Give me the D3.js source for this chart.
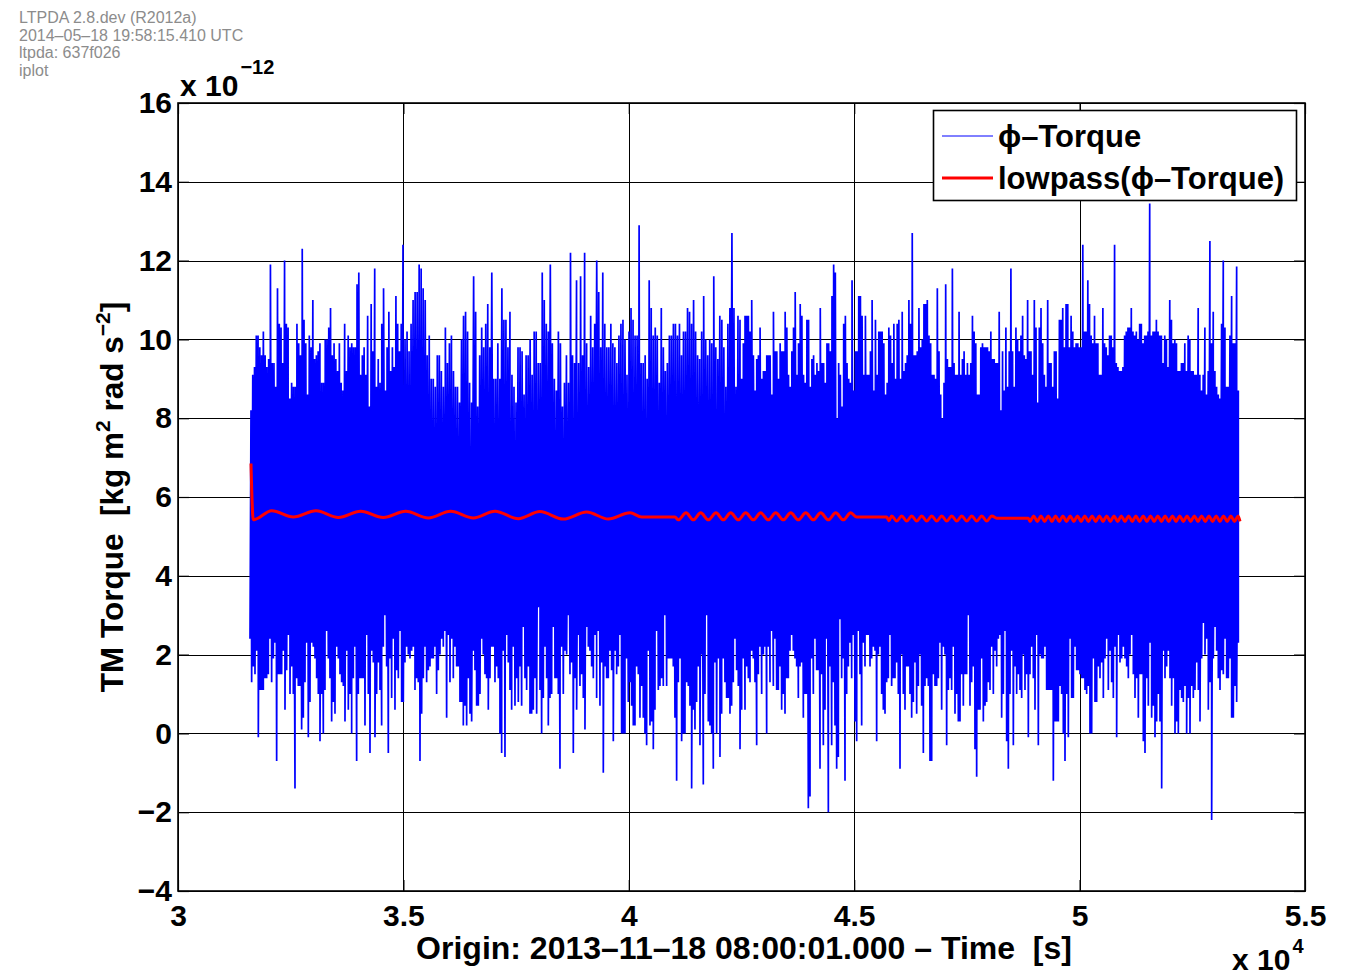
<!DOCTYPE html>
<html><head><meta charset="utf-8">
<script src="https://cdn.jsdelivr.net/npm/d3@7"></script>
<style>
body{margin:0;background:#fff}
svg{display:block}
text{font-family:"Liberation Sans",Arial,Helvetica,sans-serif}
</style>
</head><body>
<svg id="c" width="1350" height="976"></svg>
<script>
// ---------- data ----------
const headerLines = ["LTPDA 2.8.dev (R2012a)", "2014–05–18 19:58:15.410 UTC", "ltpda: 637f026", "iplot"];
const xTicks = [30000, 35000, 40000, 45000, 50000, 55000];
const xTickLabels = ["3", "3.5", "4", "4.5", "5", "5.5"];
const yTicks = [-4, -2, 0, 2, 4, 6, 8, 10, 12, 14, 16];
const yTickLabels = ["−4", "−2", "0", "2", "4", "6", "8", "10", "12", "14", "16"];
const seriesNames = ["ϕ–Torque", "lowpass(ϕ–Torque)"];

// blue series (ϕ-Torque, ×1e-12), read as local maxima / minima over time spans [s]
const bluePeaksA1Span = [31619, 34991];
const bluePeaksA1 = [8.2,9.1,9.3,10.1,10.1,9.8,9.6,10.2,9.6,9.3,9.5,11.9,9.4,9.4,8.8,11.3,10.4,10.3,9.4,12.0,10.4,10.3,8.5,8.9,8.8,8.8,10.4,9.9,9.6,12.3,10.5,9.9,8.6,10.1,9.8,11.0,9.5,9.6,9.7,9.9,8.9,8.9,10.0,10.0,10.3,10.8,9.6,9.9,9.5,9.2,9.9,8.9,8.7,10.4,9.2,10.1,9.8,9.9,9.8,9.8,11.4,11.7,9.1,9.6,9.8,9.1,10.6,8.3,10.9,9.7,11.8,8.8,9.5,8.9,10.4,11.3,8.7,9.8,10.7,9.2,9.8,9.3,11.1,10.4,9.7,10.4,12.4];
const bluePeaksA2Span = [35036, 42422];
const bluePeaksA2 = [10.0,10.2,9.7,10.4,11.0,11.2,11.2,11.9,11.8,11.3,11.0,9.6,10.1,9.0,9.0,8.8,9.6,9.6,9.2,8.8,10.3,9.4,9.9,10.1,9.2,8.8,8.8,8.4,10.0,10.6,10.7,10.2,8.9,8.4,11.6,10.7,8.3,9.6,10.3,9.8,10.4,10.9,9.8,11.7,9.0,9.0,9.9,9.0,11.3,10.5,10.5,9.8,10.7,9.1,8.8,8.4,9.8,9.8,9.7,8.6,9.6,9.6,10.0,9.1,10.2,10.2,9.4,9.4,11.7,11.0,10.4,10.2,11.9,9.9,9.0,8.7,10.2,9.9,8.3,8.9,9.6,8.9,12.2,9.6,9.4,11.5,9.4,11.6,9.6,12.2,9.9,9.3,10.6,9.8,10.4,12.0,11.2,9.8,11.7,10.4,9.8,9.8,10.4,9.9,9.8,9.4,10.1,10.4,10.5,10.0,9.1,10.2,10.8,10.5,10.1,10.1,12.9,9.4,9.4,9.6,9.0,11.5,10.8,10.1,10.3,10.1,8.9,10.8,9.8,9.2,9.4,10.1,10.1,10.4,10.4,10.1,10.4,9.6,10.2,10.2,10.8,10.7,10.4,11.0,10.2,9.6,9.5,10.2,11.1,10.0,9.6,10.0,9.9,11.6,9.8,9.5,10.6,10.5,9.8,8.8,10.4,10.8,12.7,10.8,8.8,10.6];
const bluePeaksBSpan = [42467, 53521];
const bluePeaksB = [10.5,9.0,9.9,10.6,10.6,10.6,10.2,11.0,9.6,8.7,9.5,9.6,10.3,9.0,9.2,9.2,9.6,9.6,9.6,8.6,10.7,9.7,9.7,9.0,9.9,9.7,9.7,10.7,10.3,9.1,8.8,9.7,10.3,11.2,9.1,9.9,10.9,10.6,9.1,8.9,10.5,10.5,8.8,9.5,9.6,9.1,9.4,9.2,10.8,9.4,9.4,8.9,9.9,9.9,9.7,11.1,11.9,11.7,8.0,9.4,9.1,8.3,10.4,10.6,9.4,9.0,8.9,11.5,8.7,9.7,9.7,11.1,11.1,10.6,9.1,10.6,9.1,9.1,9.7,11.0,8.7,10.5,9.1,10.2,10.2,10.2,9.9,8.6,8.9,10.3,10.1,9.4,10.4,9.0,10.4,10.5,9.0,10.7,9.2,9.4,9.6,11.0,10.4,12.7,9.6,9.6,9.7,10.8,9.8,10.0,10.9,10.9,11.0,10.1,9.9,9.1,9.1,9.0,11.3,9.7,8.6,8.0,8.9,11.4,9.5,9.3,9.3,11.8,9.4,9.1,9.1,10.7,9.1,9.5,9.7,9.1,9.4,9.1,9.4,10.6,10.2,9.9,8.6,8.6,9.8,9.9,9.8,9.8,9.8,9.7,10.2,9.5,9.5,9.4,9.4,10.7,8.2,9.7,8.7,10.3,8.8,9.7,11.8,9.7,8.8,10.3,10.0,9.7,10.1,10.6,9.6,9.5,11.0,9.7,9.7,9.1,11.0,10.3,8.4,10.3,10.8,9.9,9.1,8.8,11.0,9.4,9.4,8.8,9.7,9.7,8.5,10.5,10.5,10.8,9.8,10.9,10.9,9.8,10.6,10.2,9.8,9.9,9.9,9.8,9.8,12.4,10.2,10.2,11.5,10.9,10.1,9.9,10.6,9.9,9.9,9.1,9.1,10.8,9.9,9.8,9.6,10.1,10.1,9.8,12.4,9.4,9.3,9.2,9.2,9.3,10.1,10.2,10.3,10.3,10.8,10.2,10.1,10.2,10.0,10.4,10.4,9.9,10.1,10.1,10.2,13.45,10.1,10.2,10.2,10.5,10.2,10.1,10.1,9.4,10.1,10.0,9.3,11.0,10.5,9.9,10.0,9.9,9.2,9.2,9.4,9.4,9.9,9.2,10.1,10.0,9.2,9.2,9.1,9.1,10.8,9.1,8.7,9.1,10.3,8.6,9.2,12.5,9.9,10.7,9.2,8.8,8.6,8.5,10.4,12.0,10.3,8.8,8.8,10.1,11.1,9.9,9.9,11.85,8.7];
const blueTroughsASpan = [31597, 42429];
const blueTroughsA = [2.4,1.3,1.7,1.5,2.1,-0.1,1.1,1.1,1.1,1.4,1.4,1.5,2.4,1.3,1.9,2.3,-0.7,1.5,1.5,1.5,2.1,0.6,1.6,2.5,1.0,1.7,1.0,-1.4,1.4,1.2,1.2,0.1,0.4,1.3,2.3,-0.1,0.8,2.3,2.2,1.9,1.4,1.0,-0.2,1.0,0.0,1.1,2.6,1.9,1.4,0.3,0.8,0.5,2.2,1.9,1.5,1.3,1.2,0.3,2.1,0.6,1.0,0.0,1.4,2.2,-0.7,1.0,1.4,1.4,1.4,0.2,2.5,1.0,-0.5,2.1,1.8,-0.1,1.0,1.8,1.1,0.2,2.2,3.0,1.7,-0.5,1.9,0.9,2.4,0.6,1.6,1.4,2.6,0.8,0.8,1.8,2.2,2.0,1.9,2.1,2.2,1.1,1.4,1.3,-0.7,0.5,1.4,2.2,1.3,1.6,1.7,1.9,1.9,2.2,1.0,1.6,2.0,2.4,2.2,2.6,0.4,2.5,1.3,2.4,1.4,2.2,1.7,1.7,0.8,0.8,0.2,0.7,0.2,1.4,0.5,0.3,2.1,1.6,0.7,0.7,1.0,2.4,2.0,1.5,1.4,0.6,1.4,2.2,2.2,1.3,1.7,1.4,0.0,-0.5,2.1,-0.6,2.5,1.8,1.1,0.6,2.2,0.7,1.4,0.8,1.7,0.7,2.7,1.4,1.1,1.7,0.5,0.5,0.6,1.4,0.5,3.2,1.1,0.0,0.9,2.2,1.4,0.2,0.9,1.0,2.7,1.4,1.4,1.0,-0.9,2.2,1.0,2.1,2.0,3.0,1.5,1.8,-0.5,1.4,0.6,2.5,1.2,1.5,0.9,0.1,2.7,2.2,2.1,1.7,1.4,2.5,0.9,2.6,0.7,1.8,-1.0,1.7,1.4,1.4,2.1,1.6,-0.2,2.1,1.5,1.7,2.5,0.0,0.0,0.0,1.9,0.8,1.3,0.7,0.2,0.2,1.7,1.5,0.4,1.2,0.4,0.0,-0.3,2.1,0.2,0.3,-0.4,0.6,2.6,1.1,1.2,1.4,1.2,3.0,1.2,1.9,1.9,1.9,1.7,0.4,-1.2,1.3,1.9,-0.2,0.0,0.0,1.3,1.2,0.7,-1.4,0.6,0.1,0.8,1.7,-0.3,2.0,-1.3,1.0,3.0,0.3,0.2,0.0,-0.9,1.8,0.0,1.9,-0.6,0.5,1.9,1.3,0.9,0.9,0.5,0.7,1.3,2.4,1.6,1.2];
const blueTroughsBSpan = [42467, 53521];
const blueTroughsB = [-0.4,0.6,1.9,0.6,1.7,1.4,1.3,2.1,1.9,1.3,-0.3,1.5,2.2,1.0,2.0,2.2,0.0,2.2,1.3,2.6,1.2,2.4,1.1,1.1,1.7,0.6,1.0,0.5,1.4,1.4,2.1,2.5,2.1,1.9,1.7,0.9,1.7,1.8,0.4,1.0,1.0,-1.9,-1.6,1.9,1.0,2.4,1.6,1.6,-0.9,1.5,-0.3,0.6,2.4,-2.0,1.7,-0.3,1.3,0.2,-0.9,-0.6,2.9,1.4,1.9,-1.2,1.0,1.7,2.3,1.4,2.5,0.3,-0.2,2.6,1.5,0.2,2.3,1.7,2.5,2.5,1.7,1.9,2.2,2.1,-0.2,2.0,2.2,1.0,0.6,0.5,1.3,1.4,2.5,1.2,1.4,1.4,1.8,1.0,-0.9,2.0,1.0,0.6,1.7,1.7,1.0,0.4,0.8,1.8,0.5,1.2,2.0,0.7,-0.5,1.2,1.4,1.2,-0.7,-0.7,1.5,1.2,1.2,1.4,2.3,0.6,2.2,2.0,-0.3,1.1,1.4,1.1,2.2,0.5,1.0,0.3,0.3,1.5,0.7,1.5,1.5,3.0,0.7,1.3,1.7,-0.4,-1.1,0.6,0.6,1.9,0.3,0.7,0.8,1.3,1.1,2.2,1.0,2.1,1.7,2.4,2.5,0.4,1.0,2.6,-0.2,-0.9,1.0,2.1,-0.3,1.7,1.0,1.5,1.1,0.9,2.0,1.1,1.5,-0.1,1.5,2.2,1.4,0.6,2.5,-0.3,2.0,1.9,1.9,2.2,1.1,1.1,1.1,1.1,-1.2,0.3,0.3,0.3,1.2,1.0,0.0,-0.7,1.0,-0.1,2.4,0.9,0.9,2.2,1.6,1.6,1.5,1.4,1.4,1.1,1.0,1.2,0.0,0.0,1.9,0.8,0.8,1.7,1.4,1.8,0.9,1.9,2.4,1.1,2.1,1.3,0.9,2.2,-0.1,2.5,1.8,1.9,2.2,1.9,1.7,1.4,2.0,2.5,1.5,0.9,1.4,0.4,1.5,1.5,-0.2,-0.5,1.4,0.7,2.3,0.4,0.7,-0.1,0.3,1.0,0.3,-1.4,2.1,1.4,1.7,2.1,1.4,0.7,1.4,0.0,0.3,0.0,1.1,0.9,0.8,1.2,0.0,0.9,0.0,1.2,0.9,1.1,1.8,1.1,0.3,1.9,2.8,2.0,2.4,0.6,1.3,-2.2,1.9,2.7,2.1,1.4,1.1,1.6,1.5,2.4,1.4,1.4,1.9,0.4,0.4,1.2,0.8,2.3];

// red series: lowpass(ϕ-Torque), extrema
const redT = [31619,31670,32079,32558,33061,33556,34053,34554,35051,35552,36049,36551,37032,37549,38030,38547,39066,39545,40027,40286,41025,
41098,41269,41431,41595,41764,41934,42096,42260,42429,42593,42762,42926,43094,43259,43427,43592,43760,43924,44093,44257,44426,44590,44758,44923,45056,45721,
45772,45832,45943,46054,46165,46276,46387,46498,46609,46720,46831,46942,47053,47164,47275,47386,47497,47608,47718,47829,47940,48051,48162,48863,
48900,48981,49062,49143,49224,49305,49386,49467,49548,49629,49710,49791,49872,49953,50034,50115,50196,50277,50358,50439,50520,50601,50682,50763,50844,50925,51006,51087,51168,51249,51330,51411,51492,51573,51654,51735,51816,51897,51978,52059,52140,52221,52302,52383,52464,52545,52626,52707,52788,52869,52950,53031,53112,53193,53274,53355,53436,53517,53558];
const redV = [6.85,5.42,5.65,5.49,5.65,5.48,5.64,5.48,5.64,5.47,5.64,5.47,5.64,5.45,5.63,5.44,5.62,5.44,5.60,5.49,5.49,
5.42,5.60,5.42,5.60,5.42,5.60,5.42,5.60,5.42,5.60,5.42,5.60,5.42,5.60,5.42,5.60,5.42,5.60,5.42,5.60,5.42,5.60,5.42,5.60,5.49,5.49,
5.40,5.52,5.39,5.52,5.39,5.52,5.39,5.52,5.39,5.52,5.39,5.52,5.39,5.52,5.39,5.52,5.39,5.52,5.39,5.52,5.39,5.52,5.46,5.46,
5.38,5.52,5.38,5.52,5.38,5.52,5.38,5.52,5.38,5.52,5.38,5.52,5.38,5.52,5.38,5.52,5.38,5.52,5.38,5.52,5.38,5.52,5.38,5.52,5.38,5.52,5.38,5.52,5.38,5.52,5.38,5.52,5.38,5.52,5.38,5.52,5.38,5.52,5.38,5.52,5.38,5.52,5.38,5.52,5.38,5.52,5.38,5.52,5.38,5.52,5.38,5.52,5.38,5.52,5.38,5.52,5.38,5.52,5.38,5.52,5.38,5.52,5.63];

// ---------- drawing ----------
const L = 178, R = 1305, T = 103, B = 891;
const svg = d3.select("#c");
const FONT = '"Liberation Sans",Arial,Helvetica,sans-serif';

const x = d3.scaleLinear().domain([30000, 55000]).range([L, R]);
const y = d3.scaleLinear().domain([-4, 16]).range([B, T]);

// header
svg.append("g").selectAll("text").data(headerLines).join("text")
  .attr("x", 19).attr("y", (d, i) => 23 + i * 17.6)
  .attr("font-size", 16).attr("fill", "#8c8c8c").text(d => d);

// grid
const grid = svg.append("g").attr("transform", "translate(0.5,0.5)");
grid.selectAll("line.v").data(xTicks).join("line")
  .attr("x1", d => Math.round(x(d))).attr("x2", d => Math.round(x(d)))
  .attr("y1", T).attr("y2", B).attr("stroke", "#000").attr("stroke-width", 1);
grid.selectAll("line.h").data(yTicks).join("line")
  .attr("y1", d => Math.round(y(d))).attr("y2", d => Math.round(y(d)))
  .attr("x1", L).attr("x2", R).attr("stroke", "#000").attr("stroke-width", 1);

// axes with inward ticks
function styleAxis(g) {
  g.select(".domain").remove();
  g.selectAll(".tick line").attr("stroke", "#000").attr("stroke-width", 1.2);
  g.attr("font-size", 30).attr("font-family", FONT).attr("font-weight", "bold");
  g.selectAll(".tick text").attr("fill", "#000");
}
svg.append("g").attr("transform", `translate(${L},0)`)
  .call(d3.axisLeft(y).tickValues(yTicks).tickSizeInner(-11).tickSizeOuter(0).tickPadding(6)
    .tickFormat((d, i) => yTickLabels[i])).call(styleAxis);
svg.append("g").attr("transform", `translate(${R},0)`)
  .call(d3.axisRight(y).tickValues(yTicks).tickSizeInner(-11).tickSizeOuter(0).tickFormat(""))
  .call(styleAxis);
svg.append("g").attr("transform", `translate(0,${B})`)
  .call(d3.axisBottom(x).tickValues(xTicks).tickSizeInner(-11).tickSizeOuter(0).tickPadding(14)
    .tickFormat((d, i) => xTickLabels[i])).call(styleAxis);
svg.append("g").attr("transform", `translate(0,${T})`)
  .call(d3.axisTop(x).tickValues(xTicks).tickSizeInner(-11).tickSizeOuter(0).tickFormat(""))
  .call(styleAxis);

// blue series: each local extremum joined to the next extremum of the opposite kind
function section(span, vals, kind) {
  const s = d3.scaleLinear().domain([0, vals.length - 1]).range(span);
  return vals.map((v, i) => ({ t: s(i), v, kind }));
}
const bluePts = [].concat(
  section(bluePeaksA1Span, bluePeaksA1, "hi"),
  section(bluePeaksA2Span, bluePeaksA2, "hi"),
  section(bluePeaksBSpan, bluePeaksB, "hi"),
  section(blueTroughsASpan, blueTroughsA, "lo"),
  section(blueTroughsBSpan, blueTroughsB, "lo")
).sort((a, b) => a.t - b.t);

const blueSegs = [];
for (let i = 0; i < bluePts.length; i++) {
  let j = i + 1;
  while (j < bluePts.length && bluePts[j].kind === bluePts[i].kind) j++;
  if (j < bluePts.length) blueSegs.push([bluePts[i], bluePts[j]]);
}
const blueLine = d3.line().x(d => x(d.t)).y(d => y(d.v));
svg.append("path")
  .attr("d", blueSegs.map(s => blueLine(s)).join(""))
  .attr("fill", "none").attr("stroke", "#0000ff").attr("stroke-width", 1.7)
  .attr("stroke-linecap", "butt");

// red series
const redPts = redT.map((t, i) => ({ t, v: redV[i] }));
svg.append("path").datum(redPts)
  .attr("d", d3.line().x(d => x(d.t)).y(d => y(d.v)).curve(d3.curveMonotoneX))
  .attr("fill", "none").attr("stroke", "#ff0000").attr("stroke-width", 3)
  .attr("stroke-linejoin", "round");

// box
svg.append("rect").attr("x", L).attr("y", T).attr("width", R - L).attr("height", B - T)
  .attr("fill", "none").attr("stroke", "#000").attr("stroke-width", 1.6);

// exponent labels
const ex1 = svg.append("text").attr("x", 180).attr("y", 96).attr("font-size", 30).attr("font-weight", "bold");
ex1.append("tspan").text("x 10");
ex1.append("tspan").attr("dy", -22).attr("dx", 2).attr("font-size", 20).text("−12");
const ex2 = svg.append("text").attr("x", 1232).attr("y", 970).attr("font-size", 30).attr("font-weight", "bold");
ex2.append("tspan").text("x 10");
ex2.append("tspan").attr("dy", -17).attr("dx", 2).attr("font-size", 20).text("4");

// axis labels
svg.append("text").attr("x", 744).attr("y", 959).attr("text-anchor", "middle")
  .attr("font-size", 32).attr("font-weight", "bold").style("white-space", "pre")
  .text("Origin: 2013–11–18 08:00:01.000 – Time  [s]");
const yl = svg.append("text").attr("transform", "translate(123,497) rotate(-90)")
  .attr("text-anchor", "middle").attr("font-size", 31.5).attr("font-weight", "bold")
  .style("white-space", "pre");
yl.append("tspan").text("TM Torque  [kg m");
yl.append("tspan").attr("dy", -13).attr("font-size", 21).text("2");
yl.append("tspan").attr("dy", 13).text(" rad s");
yl.append("tspan").attr("dy", -13).attr("font-size", 21).text("−2");
yl.append("tspan").attr("dy", 13).text("]");

// legend
const lg = svg.append("g");
lg.append("rect").attr("x", 933.5).attr("y", 110.5).attr("width", 363).attr("height", 90)
  .attr("fill", "#fff").attr("stroke", "#000").attr("stroke-width", 1.6);
const legendColors = ["#0000ff", "#ff0000"], legendWidths = [1, 3];
seriesNames.forEach((name, i) => {
  const cy = 136 + i * 42;
  lg.append("line").attr("x1", 942).attr("x2", 993).attr("y1", cy).attr("y2", cy)
    .attr("stroke", legendColors[i]).attr("stroke-width", legendWidths[i]);
  lg.append("text").attr("x", 998).attr("y", cy + 11).attr("font-size", 31)
    .attr("font-weight", "bold").text(name);
});
</script>
</body></html>
